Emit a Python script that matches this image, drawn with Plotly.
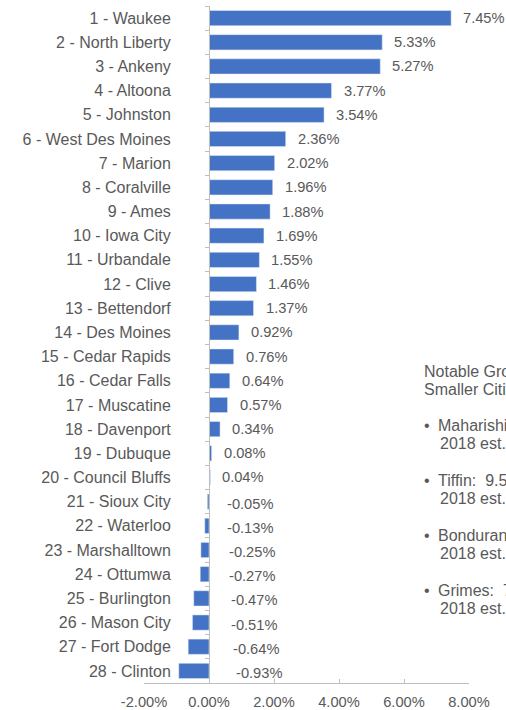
import plotly.graph_objects as go

ranks = list(range(1, 29))
cities = ["Waukee", "North Liberty", "Ankeny", "Altoona", "Johnston", "West Des Moines",
          "Marion", "Coralville", "Ames", "Iowa City", "Urbandale", "Clive", "Bettendorf",
          "Des Moines", "Cedar Rapids", "Cedar Falls", "Muscatine", "Davenport", "Dubuque",
          "Council Bluffs", "Sioux City", "Waterloo", "Marshalltown", "Ottumwa", "Burlington",
          "Mason City", "Fort Dodge", "Clinton"]
growth = [7.45, 5.33, 5.27, 3.77, 3.54, 2.36, 2.02, 1.96, 1.88, 1.69, 1.55, 1.46, 1.37,
          0.92, 0.76, 0.64, 0.57, 0.34, 0.08, 0.04, -0.05, -0.13, -0.25, -0.27, -0.47,
          -0.51, -0.64, -0.93]
x_ticks = [-2, 0, 2, 4, 6, 8]
note_lines = ["Notable Growth in", "Smaller Cities:"]
note_items = [("Maharishi Vedic City", "2018 est."),
              ("Tiffin:  9.5% growth,", "2018 est."),
              ("Bondurant:  growth,", "2018 est."),
              ("Grimes:  7% growth,", "2018 est.")]

labels = [f"{r} - {c}" for r, c in zip(ranks, cities)]
FONT = "Arial, Liberation Sans, sans-serif"
GRAY = "#595959"
AX = "#bfbfbf"

fig = go.Figure(go.Bar(x=growth, y=labels, orientation="h", marker_color="#4472C4",
                       width=0.63, hoverinfo="skip"))

for lab, v in zip(labels, growth):
    if v >= 0:
        fig.add_annotation(x=v, y=lab, text=f"{v:.2f}%", xanchor="left", xshift=10,
                           showarrow=False, font=dict(size=14.67, color=GRAY, family=FONT))
    else:
        fig.add_annotation(x=abs(v) * 0.32, y=lab, text=f"{v:.2f}%", xanchor="left",
                           xshift=15, yshift=-2, showarrow=False,
                           font=dict(size=14.67, color=GRAY, family=FONT))

# side note
W, H = 506, 710
L, R, T, B = 144, 37, 6, 27
pw, ph = W - L - R, H - T - B
def px(xp):
    return (xp - L) / pw
def py(yp):
    return 1 - (yp - T) / ph

nf = dict(size=16, color=GRAY, family=FONT)
ys = [371, 389]
for t, yy in zip(note_lines, ys):
    fig.add_annotation(xref="paper", yref="paper", x=px(422), y=py(yy), text=t,
                       xanchor="left", yanchor="middle", showarrow=False, font=nf)
y0 = 425
for name, est in note_items:
    fig.add_annotation(xref="paper", yref="paper", x=px(422), y=py(y0), text="•",
                       xanchor="left", yanchor="middle", showarrow=False, font=nf)
    fig.add_annotation(xref="paper", yref="paper", x=px(436), y=py(y0), text=name,
                       xanchor="left", yanchor="middle", showarrow=False, font=nf)
    fig.add_annotation(xref="paper", yref="paper", x=px(438), y=py(y0 + 18), text=est,
                       xanchor="left", yanchor="middle", showarrow=False, font=nf)
    y0 += 55

fig.update_layout(
    width=W, height=H, margin=dict(l=L, r=R, t=T, b=B),
    plot_bgcolor="white", paper_bgcolor="white", showlegend=False,
    font=dict(family=FONT, color=GRAY),
    xaxis=dict(range=[-2, 8], tickvals=x_ticks, ticktext=[f"{t:.2f}%" for t in x_ticks],
               showgrid=False, zeroline=False, showline=True, linecolor=AX, linewidth=1,
               ticks="inside", ticklen=4, tickcolor=AX, tickfont=dict(size=14.67, color=GRAY),
               ticklabelstandoff=5, automargin=False, fixedrange=True),
    yaxis=dict(type="category", range=[27.5, -0.5], anchor="free", position=0.2,
               showgrid=False, zeroline=False, showline=True, linecolor=AX, linewidth=1,
               ticks="outside", ticklen=4, tickcolor=AX, tickson="boundaries",
               ticklabelstandoff=35, tickfont=dict(size=16, color=GRAY),
               automargin=False, fixedrange=True),
)

fig.write_html("out.html", config={"displayModeBar": False},
               post_script="document.body.style.margin='0';document.body.style.overflow='hidden';")
